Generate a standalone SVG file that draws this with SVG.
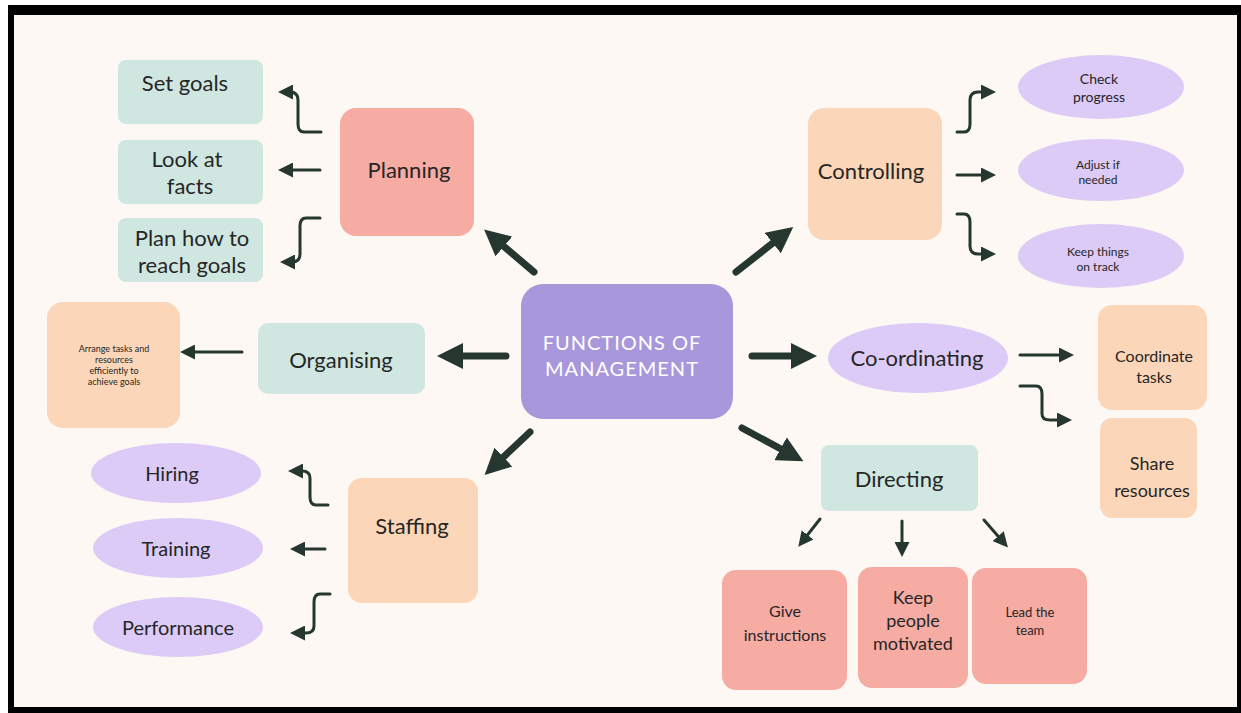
<svg xmlns="http://www.w3.org/2000/svg" width="1241" height="713" viewBox="0 0 1241 713">
<defs>
<style>
text{font-family:Lato,"Noto Sans","DejaVu Sans",sans-serif;fill:#262626;text-anchor:middle}
.teal{fill:#CFE6E1}
.pink{fill:#F6ABA3}
.orange{fill:#FCD6B8}
.lav{fill:#DCCBF6}
.thin{fill:none;stroke:#263730;stroke-width:3;stroke-linecap:round;stroke-linejoin:round}
.thick{fill:none;stroke:#263730;stroke-width:7;stroke-linecap:round}
.t22{font-size:22px}
.t20{font-size:20px}
</style>
<marker id="ah" viewBox="0 0 10 10" refX="6" refY="5" markerWidth="15" markerHeight="15" markerUnits="userSpaceOnUse" orient="auto">
<path d="M0,0 L10,5 L0,10 z" fill="#263730"/>
</marker>
<marker id="big" viewBox="0 0 10 10" refX="5" refY="5" markerWidth="26" markerHeight="26" markerUnits="userSpaceOnUse" orient="auto">
<path d="M0,0 L10,5 L0,10 z" fill="#263730"/>
</marker>
</defs>
<rect x="0" y="0" width="1241" height="713" fill="#ffffff"/>
<rect x="8" y="5" width="1233" height="708" fill="#000000"/>
<rect x="14" y="15" width="1223" height="692" fill="#FDF8F3"/>

<g id="connectors">
<line class="thick" x1="534" y1="272" x2="494" y2="238" marker-end="url(#big)"/>
<line class="thick" x1="736" y1="272" x2="783" y2="235" marker-end="url(#big)"/>
<line class="thick" x1="506" y1="356" x2="450" y2="356" marker-end="url(#big)"/>
<line class="thick" x1="752" y1="356" x2="804" y2="356" marker-end="url(#big)"/>
<line class="thick" x1="530" y1="432" x2="494" y2="466" marker-end="url(#big)"/>
<line class="thick" x1="742" y1="428" x2="792" y2="455" marker-end="url(#big)"/>
<path class="thin" d="M321,132 L304,132 Q298,132 298,124 L298,100 Q298,92 290,92 L284,92" marker-end="url(#ah)"/>
<line class="thin" x1="320" y1="170" x2="284" y2="170" marker-end="url(#ah)"/>
<path class="thin" d="M320,218 L306,218 Q300,218 300,226 L300,254 Q300,262 292,262 L286,262" marker-end="url(#ah)"/>
<path class="thin" d="M957,132 L964,132 Q970,132 970,124 L970,100 Q970,92 978,92 L990,92" marker-end="url(#ah)"/>
<line class="thin" x1="957" y1="175" x2="990" y2="175" marker-end="url(#ah)"/>
<path class="thin" d="M957,214 L964,214 Q970,214 970,222 L970,246 Q970,254 978,254 L990,254" marker-end="url(#ah)"/>
<line class="thin" x1="242" y1="352" x2="186" y2="352" marker-end="url(#ah)"/>
<line class="thin" x1="1020" y1="355" x2="1068" y2="355" marker-end="url(#ah)"/>
<path class="thin" d="M1020,386 L1036,386 Q1042,386 1042,394 L1042,414 Q1042,420 1050,420 L1066,420" marker-end="url(#ah)"/>
<path class="thin" d="M328,505 L316,505 Q310,505 310,497 L310,478 Q310,471 302,471 L294,471" marker-end="url(#ah)"/>
<line class="thin" x1="325" y1="549" x2="296" y2="549" marker-end="url(#ah)"/>
<path class="thin" d="M330,594 L320,594 Q314,594 314,602 L314,626 Q314,633 306,633 L296,633" marker-end="url(#ah)"/>
<line class="thin" x1="820" y1="519" x2="802" y2="542" marker-end="url(#ah)"/>
<line class="thin" x1="902" y1="521" x2="902" y2="551" marker-end="url(#ah)"/>
<line class="thin" x1="984" y1="520" x2="1004" y2="543" marker-end="url(#ah)"/>
</g>

<g id="center">
<rect x="521" y="284" width="212" height="135" rx="22" fill="#A898DB"/>
<text x="622" y="350" style="font-size:20px;fill:#ffffff;letter-spacing:1px">FUNCTIONS OF</text>
<text x="622" y="376" style="font-size:20px;fill:#ffffff;letter-spacing:1px">MANAGEMENT</text>
</g>

<g id="planning">
<rect class="pink" x="340" y="108" width="134" height="128" rx="16"/>
<text class="t22" x="409" y="178">Planning</text>
</g>
<g id="set-goals">
<rect class="teal" x="118" y="60" width="145" height="64" rx="8"/>
<text class="t22" x="185" y="91">Set goals</text>
</g>
<g id="look-at-facts">
<rect class="teal" x="118" y="140" width="145" height="64" rx="8"/>
<text class="t22" x="187" y="167">Look at</text>
<text class="t22" x="190" y="194">facts</text>
</g>
<g id="plan-how">
<rect class="teal" x="118" y="218" width="145" height="64" rx="8"/>
<text class="t22" x="192" y="246">Plan how to</text>
<text class="t22" x="192" y="273">reach goals</text>
</g>

<g id="controlling">
<rect class="orange" x="808" y="108" width="134" height="132" rx="16"/>
<text class="t22" x="871" y="179">Controlling</text>
</g>
<g id="check-progress">
<ellipse class="lav" cx="1101" cy="87" rx="83" ry="32"/>
<text x="1099" y="84" style="font-size:14px">Check</text>
<text x="1099" y="102" style="font-size:14px">progress</text>
</g>
<g id="adjust">
<ellipse class="lav" cx="1101" cy="170" rx="83" ry="31"/>
<text x="1098" y="169" style="font-size:12px">Adjust if</text>
<text x="1098" y="184" style="font-size:12px">needed</text>
</g>
<g id="keep-track">
<ellipse class="lav" cx="1101" cy="256" rx="83" ry="32"/>
<text x="1098" y="256" style="font-size:12px">Keep things</text>
<text x="1098" y="271" style="font-size:12px">on track</text>
</g>

<g id="organising">
<rect class="teal" x="258" y="323" width="167" height="71" rx="10"/>
<text class="t22" x="341" y="368">Organising</text>
</g>
<g id="arrange">
<rect class="orange" x="47" y="302" width="133" height="126" rx="16"/>
<text x="114" y="352" style="font-size:9px">Arrange tasks and</text>
<text x="114" y="363" style="font-size:9px">resources</text>
<text x="114" y="374" style="font-size:9px">efficiently to</text>
<text x="114" y="385" style="font-size:9px">achieve goals</text>
</g>

<g id="coordinating">
<ellipse class="lav" cx="918" cy="358" rx="90" ry="35"/>
<text class="t22" x="917" y="366">Co-ordinating</text>
</g>
<g id="coordinate-tasks">
<rect class="orange" x="1098" y="305" width="109" height="105" rx="14"/>
<text x="1154" y="362" style="font-size:16px">Coordinate</text>
<text x="1154" y="383" style="font-size:16px">tasks</text>
</g>
<g id="share-resources">
<rect class="orange" x="1100" y="418" width="97" height="100" rx="12"/>
<text x="1152" y="470" style="font-size:18px">Share</text>
<text x="1152" y="497" style="font-size:18px">resources</text>
</g>

<g id="directing">
<rect class="teal" x="821" y="445" width="157" height="66" rx="8"/>
<text class="t22" x="899" y="487">Directing</text>
</g>
<g id="give-instructions">
<rect class="pink" x="722" y="570" width="125" height="120" rx="14"/>
<text x="785" y="617" style="font-size:16px">Give</text>
<text x="785" y="641" style="font-size:16px">instructions</text>
</g>
<g id="keep-motivated">
<rect class="pink" x="858" y="567" width="110" height="121" rx="14"/>
<text x="913" y="604" style="font-size:18px">Keep</text>
<text x="913" y="627" style="font-size:18px">people</text>
<text x="913" y="650" style="font-size:18px">motivated</text>
</g>
<g id="lead-team">
<rect class="pink" x="972" y="568" width="115" height="116" rx="14"/>
<text x="1030" y="617" style="font-size:13px">Lead the</text>
<text x="1030" y="635" style="font-size:13px">team</text>
</g>

<g id="staffing">
<rect class="orange" x="348" y="478" width="130" height="125" rx="14"/>
<text class="t22" x="412" y="534">Staffing</text>
</g>
<g id="hiring">
<ellipse class="lav" cx="176" cy="473" rx="85" ry="30"/>
<text class="t20" x="172" y="481">Hiring</text>
</g>
<g id="training">
<ellipse class="lav" cx="178" cy="548" rx="85" ry="30"/>
<text class="t20" x="176" y="556">Training</text>
</g>
<g id="performance">
<ellipse class="lav" cx="178" cy="627" rx="85" ry="30"/>
<text class="t20" x="178" y="635">Performance</text>
</g>
</svg>
